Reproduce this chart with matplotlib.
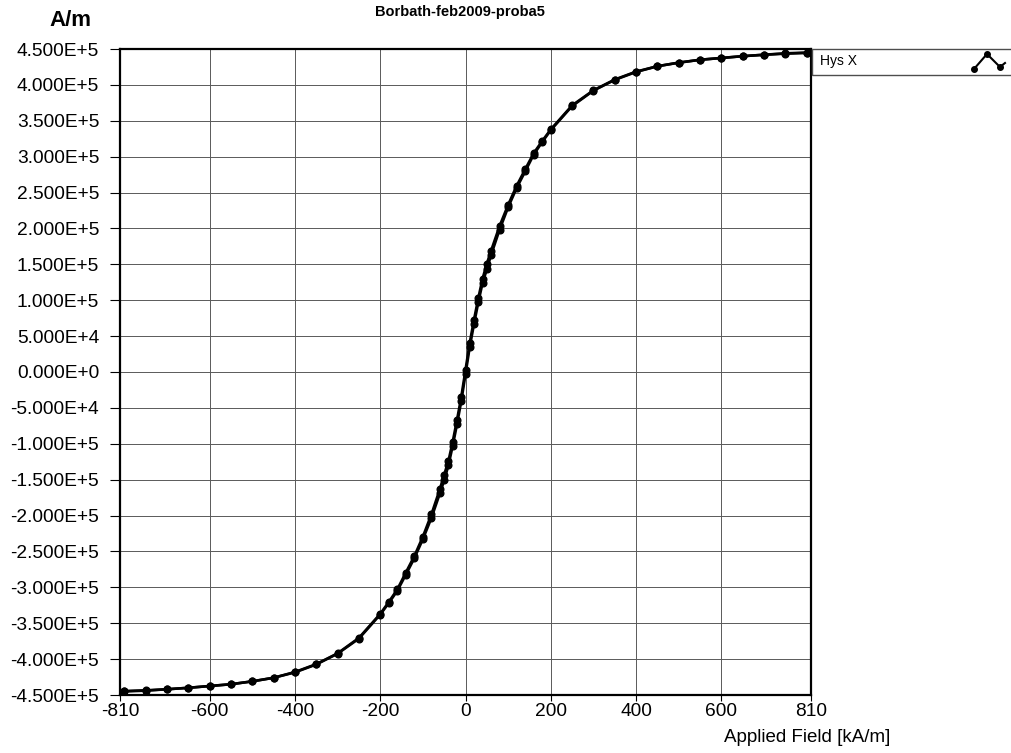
import numpy as np
import matplotlib
matplotlib.use("Agg")
import matplotlib.pyplot as plt
from matplotlib.lines import Line2D
from matplotlib.patches import Rectangle

plt.rcParams['font.family'] = ['Liberation Sans', 'DejaVu Sans']

# branch coming down from positive saturation (kA/m, A/m)
h_down = [800, 750, 700, 650, 600, 550, 500, 450, 400, 350, 300, 250,
          200, 180, 160, 140, 120, 100, 80, 60, 50, 40, 30, 20, 10, 0,
          -10, -20, -30, -40, -50, -60, -80, -100, -120, -140, -160, -180, -200,
          -250, -300, -350, -400, -450, -500, -550, -600, -650, -700, -750, -800]
m_down = [445000, 444000, 442000, 440000, 437500, 435000, 431000, 426000, 418500, 407500, 392500, 371500,
          338000, 322000, 305000, 282500, 259500, 233000, 203500, 169000, 151000, 130000, 103000, 73000, 41000, 3000,
          -35000, -67000, -97000, -124000, -143000, -163000, -198500, -229500, -256500, -279500, -303000, -320500, -337000,
          -370500, -392000, -407000, -418000, -426000, -431000, -435000, -437500, -440000, -442000, -443500, -444500]

# branch going back up from negative saturation
h_up = [-800, -750, -700, -650, -600, -550, -500, -450, -400, -350, -300, -250,
        -200, -180, -160, -140, -120, -100, -80, -60, -50, -40, -30, -20, -10, 0,
        10, 20, 30, 40, 50, 60, 80, 100, 120, 140, 160, 180, 200,
        250, 300, 350, 400, 450, 500, 550, 600, 650, 700, 750, 800]
m_up = [-445000, -444000, -442000, -440000, -437500, -435000, -431000, -426000, -418500, -407500, -392500, -371500,
        -338000, -322000, -305000, -282500, -259500, -233000, -203500, -169000, -151000, -130000, -103000, -73000, -41000, -3000,
        35000, 67000, 97000, 124000, 143000, 163000, 198500, 229500, 256500, 279500, 303000, 320500, 337000,
        370500, 392000, 407000, 418000, 426000, 431000, 435000, 437500, 440000, 442000, 443500, 444500]

x_ticks = [-810, -600, -400, -200, 0, 200, 400, 600, 810]
x_labels = ["-810", "-600", "-400", "-200", "0", "200", "400", "600", "810"]
y_ticks = list(range(-450000, 450001, 50000))


def sci_label(v):
    # format like 4.500E+5 / 0.000E+0
    if v == 0:
        return "0.000E+0"
    e = int(np.floor(np.log10(abs(v))))
    return f"{v / 10**e:.3f}E{e:+d}"


fig = plt.figure(figsize=(10.11, 7.53), dpi=100)
W, H = 1011, 753
ax = fig.add_axes([120 / W, 1 - 695 / H, (811 - 120) / W, (695 - 49) / H])

ax.plot(h_down, m_down, color='black', lw=1.9, marker='o', ms=4.8, zorder=3)
ax.plot(h_up, m_up, color='black', lw=1.9, marker='o', ms=4.8, zorder=3)

ax.set_xlim(-810, 810)
ax.set_ylim(-450000, 450000)
ax.set_xticks(x_ticks)
ax.set_xticklabels(x_labels)
ax.set_yticks(y_ticks)
ax.set_yticklabels([sci_label(v) for v in y_ticks])
ax.tick_params(axis='y', direction='out', length=7, width=0.8, pad=8, labelsize=13.8)
ax.tick_params(axis='x', direction='out', length=4, width=0.8, pad=2, labelsize=13.8)
ax.grid(True, color='0.35', lw=0.7)
ax.set_axisbelow(True)
for s in ax.spines.values():
    s.set_linewidth(1.6)
    s.set_color('black')

fig.text(70 / W, 1 - 20 / H, "A/m", fontsize=16, fontweight='bold', ha='center', va='center')
fig.text(460 / W, 1 - 12 / H, "Borbath-feb2009-proba5", fontsize=10.5, fontweight='bold',
         ha='center', va='center')
fig.text(890 / W, 1 - 738 / H, "Applied Field [kA/m]", fontsize=13.5, ha='right', va='center')

# legend box on the right
fig.patches.append(Rectangle((812 / W, 1 - 75 / H), 210 / W, 26 / H, transform=fig.transFigure,
                             fill=False, edgecolor='0.3', lw=1.0))
fig.text(820 / W, 1 - 61 / H, "Hys X", fontsize=10, ha='left', va='center')
icon_x = np.array([974, 987, 1000, 1005]) / W
icon_y = 1 - np.array([69, 54, 67, 63]) / H
fig.lines.append(Line2D(icon_x, icon_y, transform=fig.transFigure, color='black', lw=1.5))
fig.lines.append(Line2D(icon_x[:3], icon_y[:3], transform=fig.transFigure, color='black',
                        lw=0, marker='o', ms=4))

fig.savefig("out.png", dpi=100, facecolor='white')
